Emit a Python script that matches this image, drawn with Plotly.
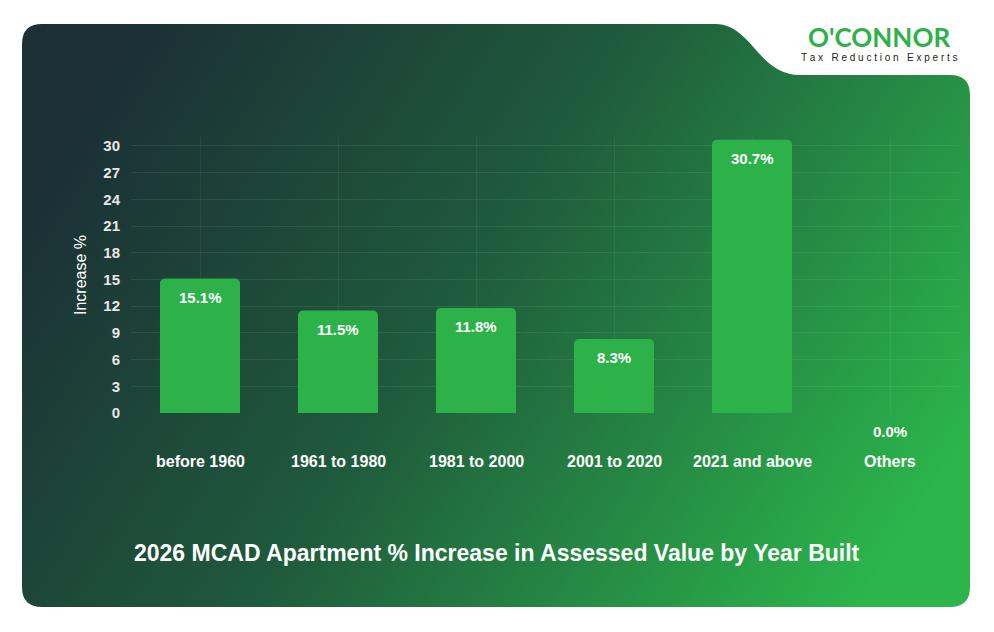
import base64
import plotly.graph_objects as go

categories = ["before 1960", "1961 to 1980", "1981 to 2000", "2001 to 2020", "2021 and above", "Others"]
increase = [15.1, 11.5, 11.8, 8.3, 30.7, 0.0]
y_ticks = [0, 3, 6, 9, 12, 15, 18, 21, 24, 27, 30]

W, H = 994, 624
HV = 616  # rendered page height the layout is designed against


def py(y):
    # pixel row from the top -> paper fraction
    return 1 - y / HV


svg = f"""<svg xmlns='http://www.w3.org/2000/svg' width='{W}' height='{H}' viewBox='0 0 {W} {HV}' preserveAspectRatio='none'>
<defs><linearGradient id='g' x1='0' y1='0.3' x2='1' y2='0.7'>
<stop offset='0' stop-color='#1b2f35'/><stop offset='0.45' stop-color='#1f5a3c'/>
<stop offset='1' stop-color='#2bb54b'/></linearGradient></defs>
<path d='M42,24 H715 C752,24 758,75 800,75 H950 Q970,75 970,95 V587 Q970,607 950,607 H42 Q22,607 22,587 V44 Q22,24 42,24 Z' fill='url(#g)'/>
</svg>"""
bg = "data:image/svg+xml;base64," + base64.b64encode(svg.encode()).decode()

fig = go.Figure(go.Bar(
    x=categories, y=increase,
    width=0.58,
    marker=dict(color="#2db24a", cornerradius=5, line=dict(width=0)),
    hoverinfo="skip",
))

for c, v in zip(categories, increase):
    fig.add_annotation(x=c, y=v, yref="y", text=f"<b>{v:.1f}%</b>", showarrow=False,
                       yanchor="top", yshift=-8, font=dict(size=15, color="white"))
    fig.add_annotation(x=c, y=py(461), yref="paper", yanchor="middle", text=f"<b>{c}</b>",
                       showarrow=False, font=dict(size=16, color="white"))

fig.add_annotation(x=497 / W, y=py(553), xref="paper", yref="paper", xanchor="center", yanchor="middle",
                   text="<b>2026 MCAD Apartment % Increase in Assessed Value by Year Built</b>",
                   showarrow=False, font=dict(size=23, color="white"))
fig.add_annotation(x=879 / W, y=py(37), xref="paper", yref="paper", xanchor="center", yanchor="middle",
                   text="<b>O'CONNOR</b>", showarrow=False,
                   font=dict(size=26, color="#2db24a", family="Lato"))
fig.add_annotation(x=879 / W, y=py(58), xref="paper", yref="paper", xanchor="center", yanchor="middle",
                   text="T a x   R e d u c t i o n   E x p e r t s", showarrow=False,
                   font=dict(size=10, color="#222222"))

fig.update_layout(
    width=W, height=H,
    margin=dict(l=0, r=0, t=0, b=0),
    paper_bgcolor="white", plot_bgcolor="rgba(0,0,0,0)",
    font=dict(family="Liberation Sans, Arial, sans-serif"),
    showlegend=False,
    images=[dict(source=bg, xref="paper", yref="paper", x=0, y=1, sizex=1, sizey=1,
                 xanchor="left", yanchor="top", sizing="stretch", layer="below")],
    xaxis=dict(domain=[131 / W, 959 / W], showticklabels=False, showgrid=True,
               gridcolor="rgba(255,255,255,0.06)", zeroline=False, fixedrange=True),
    yaxis=dict(domain=[py(413), py(137)], range=[0, 31], tickvals=y_ticks,
               ticktext=[f"<b>{t}</b>" for t in y_ticks],
               tickfont=dict(size=15, color="#e8e8e8", family="Liberation Sans"),
               ticklabelstandoff=10,
               gridcolor="rgba(255,255,255,0.08)", zeroline=False,
               title=dict(text="Increase %", font=dict(size=16, color="white"), standoff=12)),
)

fig.write_html("out.html", config={"displayModeBar": False},
               post_script="document.body.style.margin='0';")
